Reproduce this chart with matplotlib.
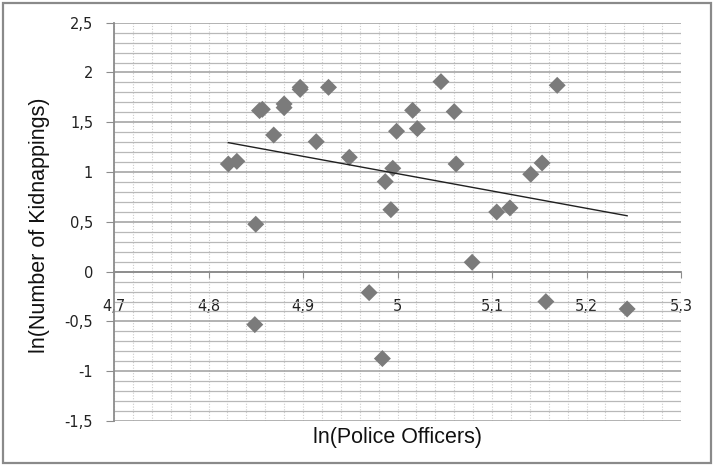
import numpy as np
import matplotlib.pyplot as plt
from matplotlib.patches import Rectangle
from matplotlib.ticker import MultipleLocator, FuncFormatter

# ln(police officers) vs ln(kidnappings)
police = [4.821, 4.830, 4.850, 4.854, 4.857, 4.869, 4.880, 4.880, 4.897, 4.897,
          4.914, 4.927, 4.949, 5.046, 5.169, 5.016, 5.060, 4.999, 5.021, 5.062,
          4.995, 4.987, 4.993, 5.105, 5.119, 5.141, 5.153, 4.849, 5.079, 4.970,
          4.984, 5.157, 5.243]
kidnap = [1.081, 1.108, 0.476, 1.617, 1.630, 1.372, 1.684, 1.647, 1.851, 1.830,
          1.305, 1.851, 1.148, 1.908, 1.871, 1.620, 1.607, 1.410, 1.436, 1.081,
          1.038, 0.904, 0.622, 0.599, 0.640, 0.978, 1.091, -0.532, 0.094, -0.211,
          -0.873, -0.301, -0.375]
trend_slope = -1.74
trend_intercept = 9.684


def comma(v, pos):
    return ("%g" % round(v, 2)).replace(".", ",")


fig = plt.figure(figsize=(7.14, 4.66), dpi=100)
ax = fig.add_axes([114 / 714, 45 / 466, 567 / 714, 398.3 / 466])

ax.set_xlim(4.7, 5.3)
ax.set_ylim(-1.5, 2.5)

# gridlines, Excel style
ax.xaxis.set_major_locator(MultipleLocator(0.1))
ax.xaxis.set_minor_locator(MultipleLocator(0.02))
ax.yaxis.set_major_locator(MultipleLocator(0.5))
ax.yaxis.set_minor_locator(MultipleLocator(0.1))
ax.grid(axis="x", which="both", color="#cccccc", lw=0.8, ls=(0, (1, 1.5)))
ax.grid(axis="y", which="major", color="#9e9e9e", lw=1.1)
ax.grid(axis="y", which="minor", color="#b8b8b8", lw=0.9)
ax.set_axisbelow(True)

ax.xaxis.set_major_formatter(FuncFormatter(comma))
ax.yaxis.set_major_formatter(FuncFormatter(comma))

for s in ("top", "right"):
    ax.spines[s].set_visible(False)
ax.spines["bottom"].set_position(("data", 0))
ax.spines["bottom"].set_color("#8c8c8c")
ax.spines["left"].set_color("#8c8c8c")
ax.spines["bottom"].set_linewidth(1.3)
ax.spines["left"].set_linewidth(1.3)

ax.tick_params(axis="x", which="major", direction="out", length=4, color="#8c8c8c",
               pad=16, labelsize=10.5, labelcolor="#222222")
ax.tick_params(axis="y", which="major", direction="out", length=6, color="#8c8c8c",
               pad=9, labelsize=10.5, labelcolor="#222222")
ax.tick_params(which="minor", length=0)

ax.scatter(police, kidnap, marker="D", s=75, color="#7b7b7b", edgecolors="none", zorder=3)

xs = np.array([min(police), max(police)])
ax.plot(xs, trend_intercept + trend_slope * xs, color="#202020", lw=1.0, zorder=4)

ax.set_xlabel("ln(Police Officers)", fontsize=15.5, family="Liberation Sans", color="#111111")
ax.xaxis.set_label_coords(0.5, -0.015)
ax.xaxis.label.set_va("top")
fig.text(40 / 714, 1 - 225 / 466, "ln(Number of Kidnappings)", rotation=90,
         ha="center", va="center", fontsize=15.5, family="Liberation Sans", color="#111111")

fig.patches.append(Rectangle((3 / 714, 3 / 466), 708 / 714, 460 / 466,
                             transform=fig.transFigure, fill=False,
                             edgecolor="#8a8a8a", lw=1.6))

fig.savefig("out.png", dpi=100)
